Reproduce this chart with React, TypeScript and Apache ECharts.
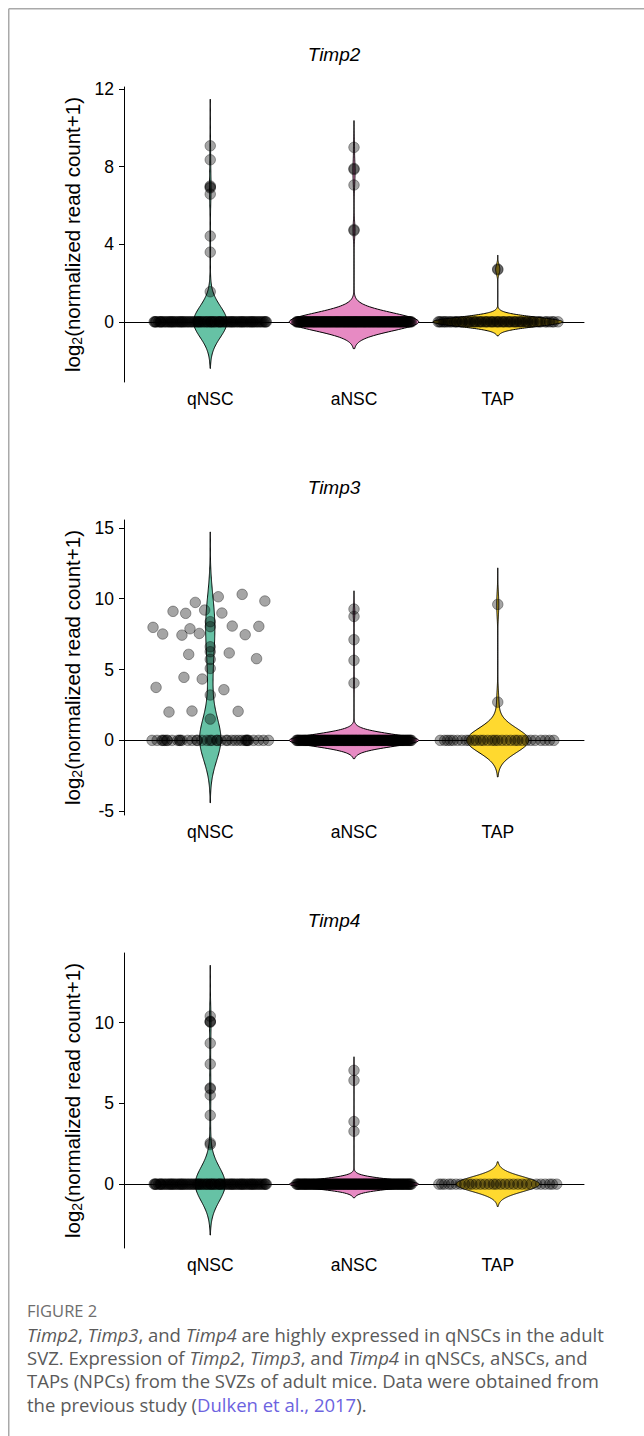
import React, { useEffect, useRef } from "react";
import * as echarts from "echarts";

// ---------- categories & genes ----------
const CATEGORIES = ["qNSC", "aNSC", "TAP"];
const GENES = ["Timp2", "Timp3", "Timp4"];
const VIOLIN_COLORS = ["#66C2A5", "#E78AC3", "#FFD92F"];

// ---------- y axes ----------
const Y_MIN = [-3.1, -5.27, -3.95];
const Y_MAX = [12.1, 15.56, 14.3];
const Y_TICKS = [[0, 4, 8, 12], [-5, 0, 5, 10, 15], [0, 5, 10]];

// ---------- expressing cells (log2 values) ----------
const TIMP2_QNSC_HIGH = [9.07, 8.35, 7.0, 6.95, 6.9, 6.58, 4.42, 3.59, 1.55];
const TIMP2_ANSC_HIGH = [8.99, 7.9, 7.85, 7.05, 4.75, 4.7];
const TIMP2_TAP_HIGH = [2.72, 2.68];

const TIMP3_QNSC_HIGH = [7.98, 7.51, 9.11, 8.97, 9.74, 9.2, 10.14, 8.99, 10.31, 9.84, 8.07, 7.46, 8.05, 7.43, 7.88, 7.55, 6.07, 6.17, 5.77, 4.45, 4.33, 3.74, 3.58, 2.0, 2.07, 2.05, 8.38, 8.03, 6.61, 6.26, 5.72, 5.08, 3.2, 1.5];
const TIMP3_QNSC_HIGH_JITTER = [-0.398, -0.331, -0.259, -0.171, -0.104, -0.039, 0.056, 0.081, 0.222, 0.38, 0.153, 0.243, 0.338, -0.197, -0.141, -0.076, -0.15, 0.132, 0.322, -0.183, -0.056, -0.377, 0.095, -0.287, -0.127, 0.194, 0, 0, 0, 0, 0, 0, 0, 0];
const TIMP3_ANSC_HIGH = [9.27, 8.75, 7.11, 5.65, 4.05];
const TIMP3_TAP_HIGH = [9.6, 2.7];

const TIMP4_QNSC_HIGH = [10.39, 10.08, 10.05, 10.02, 8.72, 7.43, 5.95, 5.9, 5.51, 4.26, 2.55, 2.45];
const TIMP4_ANSC_HIGH = [7.04, 6.42, 3.87, 3.27];
const TIMP4_TAP_HIGH: number[] = [];

// ---------- non-expressing cells (value 0): horizontal jitter ----------
const QNSC_ZERO_JITTER_A = [-0.39, -0.375, -0.36, -0.34, -0.33, -0.31, -0.29, -0.275, -0.26, -0.24, -0.22, -0.205, -0.19, -0.17, -0.15, -0.14, -0.12, -0.1, -0.085, -0.07, -0.05, -0.03, -0.015, 0.0, 0.02, 0.035, 0.05, 0.07, 0.09, 0.1, 0.12, 0.14, 0.155, 0.17, 0.19, 0.21, 0.225, 0.24, 0.26, 0.28, 0.295, 0.31, 0.33, 0.35, 0.37, 0.39];
const QNSC_ZERO_JITTER_B = [-0.385, -0.35, -0.32, -0.28, -0.25, -0.21, -0.18, -0.13, -0.09, -0.06, -0.02, 0.01, 0.06, 0.08, 0.13, 0.16, 0.2, 0.23, 0.27, 0.3, 0.34, 0.38];
const QNSC_ZERO_JITTER_C = [-0.38, -0.345, -0.3, -0.265, -0.23, -0.195, -0.16, -0.11, -0.075, -0.04, 0.005, 0.03, 0.065, 0.11, 0.145, 0.18, 0.215, 0.25, 0.285, 0.32, 0.36, 0.385];
const QNSC_ZERO_JITTER_T3 = [-0.405, -0.37, -0.336, -0.33, -0.319, -0.301, -0.3, -0.266, -0.227, -0.213, -0.21, -0.197, -0.157, -0.127, -0.093, -0.09, -0.058, -0.023, 0.0, 0.012, 0.046, 0.05, 0.074, 0.111, 0.12, 0.15, 0.174, 0.197, 0.22, 0.243, 0.25, 0.255, 0.26, 0.266, 0.301, 0.336, 0.37, 0.405];
const ANSC_ZERO_JITTER_A = [-0.4, -0.39, -0.378, -0.365, -0.352, -0.34, -0.33, -0.316, -0.305, -0.29, -0.279, -0.268, -0.255, -0.243, -0.23, -0.218, -0.206, -0.195, -0.182, -0.17, -0.158, -0.146, -0.133, -0.121, -0.11, -0.097, -0.085, -0.072, -0.061, -0.048, -0.036, -0.024, -0.012, 0.0, 0.011, 0.023, 0.036, 0.047, 0.06, 0.072, 0.083, 0.096, 0.108, 0.12, 0.133, 0.144, 0.157, 0.169, 0.18, 0.193, 0.205, 0.217, 0.229, 0.242, 0.254, 0.266, 0.278, 0.29, 0.303, 0.315, 0.327, 0.339, 0.351, 0.364, 0.376, 0.388, 0.4];
const ANSC_ZERO_JITTER_B = [-0.395, -0.384, -0.371, -0.358, -0.346, -0.335, -0.322, -0.31, -0.297, -0.285, -0.273, -0.261, -0.249, -0.236, -0.224, -0.212, -0.2, -0.188, -0.176, -0.164, -0.152, -0.139, -0.127, -0.115, -0.103, -0.091, -0.078, -0.066, -0.054, -0.042, -0.03, -0.018, -0.006, 0.006, 0.017, 0.029, 0.041, 0.054, 0.066, 0.077, 0.09, 0.102, 0.114, 0.126, 0.138, 0.151, 0.163, 0.175, 0.187, 0.199, 0.211, 0.223, 0.236, 0.248, 0.26, 0.272, 0.284, 0.297, 0.309, 0.321, 0.333, 0.345, 0.357, 0.37, 0.382, 0.394];
const TAP_ZERO_JITTER_T2 = [-0.414, -0.395, -0.38, -0.36, -0.345, -0.32, -0.3, -0.285, -0.265, -0.245, -0.225, -0.21, -0.19, -0.17, -0.15, -0.13, -0.11, -0.09, -0.07, -0.05, -0.03, -0.01, 0.01, 0.03, 0.05, 0.07, 0.09, 0.11, 0.13, 0.15, 0.17, 0.19, 0.21, 0.23, 0.25, 0.275, 0.3, 0.33, 0.36, 0.39, 0.419, -0.405, -0.37, -0.33, -0.29, -0.25, -0.2, -0.16, -0.12, -0.08, -0.04, 0.0, 0.04, 0.08, 0.12, 0.16, 0.2, 0.24, 0.29, 0.34, 0.38];
const TAP_ZERO_JITTER_T3 = [-0.4, -0.37, -0.35, -0.33, -0.31, -0.28, -0.25, -0.22, -0.2, -0.17, -0.15, -0.12, -0.1, -0.07, -0.04, -0.02, 0.0, 0.03, 0.06, 0.09, 0.12, 0.14, 0.17, 0.2, 0.23, 0.26, 0.3, 0.33, 0.36, 0.39];
const TAP_ZERO_JITTER_T4 = [-0.41, -0.39, -0.37, -0.34, -0.32, -0.29, -0.26, -0.23, -0.2, -0.18, -0.15, -0.12, -0.09, -0.06, -0.03, -0.01, 0.02, 0.05, 0.08, 0.11, 0.14, 0.17, 0.2, 0.23, 0.27, 0.3, 0.33, 0.36, 0.38, 0.41];

const QNSC_ZERO_JITTER_DENSE = QNSC_ZERO_JITTER_A.concat(QNSC_ZERO_JITTER_B, QNSC_ZERO_JITTER_C);
const ANSC_ZERO_JITTER = ANSC_ZERO_JITTER_A.concat(ANSC_ZERO_JITTER_B);

// ---------- violin statistics (kernel bandwidth, max half width in category units) ----------
const BANDWIDTH = [[0.8, 0.46, 0.24], [1.47, 0.43, 0.86], [1.05, 0.28, 0.46]];
const HALF_WIDTH = [[0.116, 0.45, 0.45], [0.074, 0.45, 0.215], [0.104, 0.45, 0.29]];

const HIGH = [
  [TIMP2_QNSC_HIGH, TIMP2_ANSC_HIGH, TIMP2_TAP_HIGH],
  [TIMP3_QNSC_HIGH, TIMP3_ANSC_HIGH, TIMP3_TAP_HIGH],
  [TIMP4_QNSC_HIGH, TIMP4_ANSC_HIGH, TIMP4_TAP_HIGH],
];
const HIGH_JITTER = [
  [null, null, null],
  [TIMP3_QNSC_HIGH_JITTER, null, null],
  [null, null, null],
];
const ZERO_JITTER = [
  [QNSC_ZERO_JITTER_DENSE, ANSC_ZERO_JITTER, TAP_ZERO_JITTER_T2],
  [QNSC_ZERO_JITTER_T3, ANSC_ZERO_JITTER, TAP_ZERO_JITTER_T3],
  [QNSC_ZERO_JITTER_DENSE, ANSC_ZERO_JITTER, TAP_ZERO_JITTER_T4],
];

const FONT = '"Liberation Sans", Arial, sans-serif';
const CAP_FONT = '"Open Sans", "Noto Sans", sans-serif';

const GRID_TOPS = [87, 520, 953];
const GRID_LEFT = 124;
const GRID_W = 460;
const GRID_H = 295;

function violinProfile(values: number[], bw: number, halfWidth: number) {
  const lo = Math.min(...values) - 3 * bw;
  const hi = Math.max(...values) + 3 * bw;
  const N = 300;
  const raw: number[][] = [];
  let maxD = 0;
  for (let k = 0; k <= N; k++) {
    const v = lo + ((hi - lo) * k) / N;
    let d = 0;
    for (const x of values) {
      const z = (v - x) / bw;
      d += Math.exp(-0.5 * z * z);
    }
    raw.push([v, d]);
    if (d > maxD) maxD = d;
  }
  return raw.map(([v, d]) => [v, (halfWidth * d) / maxD]);
}

export default function App() {
  const ref = useRef<HTMLDivElement>(null);
  useEffect(() => {
    if (!ref.current) return;
    const chart = echarts.init(ref.current, null, { renderer: "svg" });

    const grid: any[] = [];
    const xAxis: any[] = [];
    const yAxis: any[] = [];
    const series: any[] = [];
    const graphic: any[] = [];

    GENES.forEach((gene, g) => {
      grid.push({ left: GRID_LEFT, top: GRID_TOPS[g], width: GRID_W, height: GRID_H, containLabel: false });
      xAxis.push({
        type: "value",
        gridIndex: g,
        min: 0.4,
        max: 3.6,
        axisLine: { show: true, lineStyle: { color: "#000", width: 1 } },
        axisTick: { show: true, length: 5, customValues: [1, 2, 3], lineStyle: { color: "#000" } },
        axisLabel: {
          customValues: [1, 2, 3],
          formatter: (v: number) => CATEGORIES[Math.round(v) - 1] || "",
          color: "#000",
          fontFamily: FONT,
          fontSize: 17.5,
          margin: 8,
        },
        splitLine: { show: false },
      });
      yAxis.push({
        type: "value",
        gridIndex: g,
        min: Y_MIN[g],
        max: Y_MAX[g],
        axisLine: { show: true, lineStyle: { color: "#000", width: 1 } },
        axisTick: { show: true, length: 5, customValues: Y_TICKS[g], lineStyle: { color: "#000" } },
        axisLabel: {
          customValues: Y_TICKS[g],
          color: "#000",
          fontFamily: FONT,
          fontSize: 17.5,
          margin: 10,
        },
        splitLine: { show: false },
        name: "{a|log}{b|2}{a|(normalized read count+1)}",
        nameLocation: "middle",
        nameGap: 40,
        nameTextStyle: {
          rich: {
            a: { fontFamily: FONT, fontSize: 20.5, color: "#000", lineHeight: 22 },
            b: { fontFamily: FONT, fontSize: 14, color: "#000", lineHeight: 10, verticalAlign: "bottom" },
          },
        },
      });

      const profiles = CATEGORIES.map((_, c) => {
        const vals = ZERO_JITTER[g][c].map(() => 0).concat(HIGH[g][c]);
        return violinProfile(vals, BANDWIDTH[g][c], HALF_WIDTH[g][c]);
      });

      series.push({
        type: "custom",
        xAxisIndex: g,
        yAxisIndex: g,
        z: 2,
        silent: true,
        data: CATEGORIES.map((_, c) => [c + 1, 0]),
        encode: { x: 0, y: 1 },
        renderItem: (params: any, api: any) => {
          const c = params.dataIndex;
          const prof = profiles[c];
          const cx = c + 1;
          const pts: number[][] = [];
          for (let k = 0; k < prof.length; k++) pts.push(api.coord([cx + prof[k][1], prof[k][0]]));
          for (let k = prof.length - 1; k >= 0; k--) pts.push(api.coord([cx - prof[k][1], prof[k][0]]));
          return {
            type: "polygon",
            shape: { points: pts },
            style: { fill: VIOLIN_COLORS[c], stroke: "#000", lineWidth: 1 },
          };
        },
      });

      const pts: number[][] = [];
      CATEGORIES.forEach((_, c) => {
        ZERO_JITTER[g][c].forEach((j) => pts.push([c + 1 + j, 0]));
        const hj = HIGH_JITTER[g][c];
        HIGH[g][c].forEach((v, i) => pts.push([c + 1 + (hj ? hj[i] : 0), v]));
      });
      series.push({
        type: "scatter",
        xAxisIndex: g,
        yAxisIndex: g,
        z: 3,
        silent: true,
        symbol: "circle",
        symbolSize: 10.5,
        itemStyle: { color: "rgba(0,0,0,0.44)", borderColor: "rgba(0,0,0,0.44)", borderWidth: 1 },
        data: pts,
      });

      graphic.push({
        type: "text",
        x: 334,
        y: GRID_TOPS[g] - 33,
        style: {
          text: gene,
          fontFamily: FONT,
          fontSize: 19,
          fontStyle: "italic",
          fill: "#000",
          align: "center",
          verticalAlign: "middle",
        },
      });
    });

    // frame
    graphic.push({ type: "line", shape: { x1: 8.75, y1: 8.75, x2: 644, y2: 8.75 }, style: { stroke: "#a9a9a9", lineWidth: 1.5 } });
    graphic.push({ type: "line", shape: { x1: 8.75, y1: 8.75, x2: 8.75, y2: 1436 }, style: { stroke: "#a9a9a9", lineWidth: 1.5 } });

    // caption
    graphic.push({
      type: "text",
      x: 27,
      y: 1310,
      style: { text: "FIGURE 2", fontFamily: CAP_FONT, fontSize: 16.5, fill: "#6e6e6e", align: "left", verticalAlign: "middle" },
    });
    const base = { fontFamily: CAP_FONT, fontSize: 18.5, fill: "#5a5a5a", lineHeight: 23.3 };
    graphic.push({
      type: "text",
      x: 27,
      y: 1322.5,
      style: {
        text:
          "{i|Timp2}{n|, }{i|Timp3}{n|, and }{i|Timp4}{n| are highly expressed in qNSCs in the adult}\n" +
          "{n|SVZ. Expression of }{i|Timp2}{n|, }{i|Timp3}{n|, and }{i|Timp4}{n| in qNSCs, aNSCs, and}\n" +
          "{n|TAPs (NPCs) from the SVZs of adult mice. Data were obtained from}\n" +
          "{n|the previous study (}{l|Dulken et al., 2017}{n|).}",
        ...base,
        align: "left",
        verticalAlign: "top",
        rich: {
          n: { ...base },
          i: { ...base, fontStyle: "italic" },
          l: { ...base, fill: "#6c63e0" },
        },
      },
    });

    chart.setOption({
      animation: false,
      backgroundColor: "#ffffff",
      grid,
      xAxis,
      yAxis,
      series,
      graphic,
    });
    return () => chart.dispose();
  }, []);

  return (
    <div
      ref={ref}
      style={{ position: "absolute", left: 0, top: 0, width: 644, height: 1436, background: "#fff" }}
    />
  );
}
